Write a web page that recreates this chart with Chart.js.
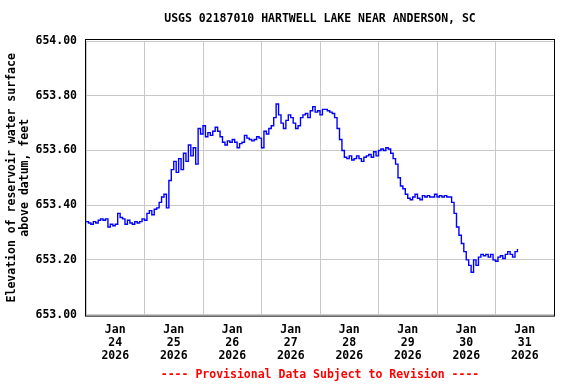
<!DOCTYPE html>
<html>
<head>
<meta charset="utf-8">
<script src="https://cdn.jsdelivr.net/npm/chart.js@4"></script>
<style>
  body { margin: 0; background: #fff; }
  #wrap { width: 576px; height: 384px; }
</style>
</head>
<body>
<div id="wrap"><canvas id="myChart"></canvas></div>
<script>
const titleText = 'USGS 02187010 HARTWELL LAKE NEAR ANDERSON, SC';
const footerText = '---- Provisional Data Subject to Revision ----';
const yTitle = ['Elevation of reservoir water surface', 'above datum, feet'];

// x labels: one per day, placed at noon
const monthLabel = 'Jan';
const dayLabels = ['24', '25', '26', '27', '28', '29', '30', '31'];
const yearLabel = '2026';

// hourly lake level (ft), starting Jan 24 00:00
const levels = [
  // Jan 24
  653.34, 653.335, 653.33, 653.34, 653.335, 653.345, 653.35, 653.345, 653.35, 653.32, 653.33, 653.325,
  653.33, 653.37, 653.355, 653.35, 653.33, 653.345, 653.335, 653.33, 653.34, 653.335, 653.34, 653.35,
  // Jan 25
  653.345, 653.37, 653.38, 653.365, 653.385, 653.39, 653.41, 653.43, 653.44, 653.39, 653.49, 653.53,
  653.56, 653.52, 653.57, 653.53, 653.59, 653.56, 653.62, 653.58, 653.61, 653.55, 653.68, 653.66,
  // Jan 26
  653.69, 653.65, 653.665, 653.655, 653.67, 653.685, 653.67, 653.65, 653.63, 653.62, 653.635, 653.63,
  653.64, 653.63, 653.61, 653.625, 653.63, 653.655, 653.645, 653.64, 653.635, 653.64, 653.65, 653.645,
  // Jan 27
  653.61, 653.67, 653.66, 653.68, 653.69, 653.72, 653.77, 653.73, 653.70, 653.68, 653.71, 653.73,
  653.72, 653.70, 653.68, 653.69, 653.72, 653.73, 653.735, 653.72, 653.745, 653.76, 653.74, 653.745,
  // Jan 28
  653.73, 653.75, 653.75, 653.745, 653.74, 653.735, 653.72, 653.68, 653.64, 653.60, 653.575, 653.57,
  653.58, 653.565, 653.57, 653.58, 653.57, 653.56, 653.575, 653.58, 653.585, 653.575, 653.595, 653.58,
  // Jan 29
  653.60, 653.605, 653.60, 653.61, 653.605, 653.59, 653.57, 653.55, 653.50, 653.47, 653.46, 653.44,
  653.425, 653.42, 653.43, 653.44, 653.425, 653.42, 653.435, 653.43, 653.435, 653.43, 653.43, 653.44,
  // Jan 30
  653.43, 653.435, 653.43, 653.435, 653.43, 653.43, 653.41, 653.37, 653.32, 653.29, 653.26, 653.23,
  653.20, 653.18, 653.155, 653.20, 653.18, 653.21, 653.22, 653.215, 653.22, 653.21, 653.22, 653.20,
  // Jan 31
  653.195, 653.21, 653.215, 653.205, 653.22, 653.23, 653.22, 653.21, 653.23, 653.24
];

const yMin = 653.0;
const yMax = 654.0;

const monoFont = { family: "'DejaVu Sans Mono', monospace", size: 11.5, weight: 'bold', lineHeight: 1.13 };
const gridGray = '#c8c8c8';

const points = levels.map((v, i) => ({ x: i, y: v }));

// black frame around the plot area
const frame = {
  id: 'frame',
  afterDraw(chart) {
    const a = chart.chartArea;
    const c = chart.ctx;
    c.save();
    c.strokeStyle = '#000';
    c.lineWidth = 1;
    c.strokeRect(a.left - 0.5, a.top - 1.5, a.right - a.left + 1, a.bottom - a.top + 3);
    c.restore();
  }
};

const ctx = document.getElementById('myChart').getContext('2d');

const myChart = new Chart(ctx, {
  type: 'line',
  data: {
    datasets: [{
      data: points,
      borderColor: '#0000ff',
      borderWidth: 1.4,
      pointRadius: 0,
      stepped: true,
      fill: false
    }]
  },
  options: {
    responsive: true,
    maintainAspectRatio: false,
    animation: false,
    layout: {
      padding: { left: 0, right: 22, top: 0, bottom: 0 }
    },
    scales: {
      x: {
        type: 'linear',
        min: 0,
        max: 192,
        afterFit: s => { s.height = 54; },
        grid: {
          color: c => (c.tick && c.tick.value % 24 === 0) ? gridGray : 'rgba(0,0,0,0)',
          drawTicks: false
        },
        border: { display: false },
        ticks: {
          stepSize: 12,
          autoSkip: false,
          maxRotation: 0,
          minRotation: 0,
          padding: 9,
          color: '#000',
          font: monoFont,
          callback: v => (v % 24 === 12) ? [monthLabel, dayLabels[(v - 12) / 24], yearLabel] : ''
        }
      },
      y: {
        min: yMin,
        max: yMax,
        afterFit: s => { s.width = 86; },
        grid: {
          color: gridGray,
          drawTicks: false
        },
        border: { display: false },
        ticks: {
          stepSize: 0.2,
          padding: 9,
          color: '#000',
          font: monoFont,
          callback: v => v.toFixed(2)
        },
        title: {
          display: true,
          text: yTitle,
          color: '#000',
          font: monoFont,
          padding: { top: 5.5, bottom: 0 }
        }
      }
    },
    plugins: {
      legend: { display: false },
      tooltip: { enabled: false },
      title: {
        display: true,
        text: titleText,
        color: '#000',
        fullSize: false,
        font: { family: "'DejaVu Sans Mono', monospace", size: 11.5, weight: 'bold', lineHeight: 1.2 },
        padding: { top: 12.6, bottom: 14.6 }
      },
      subtitle: {
        display: true,
        position: 'bottom',
        text: footerText,
        color: '#ff0000',
        fullSize: false,
        font: { family: "'DejaVu Sans Mono', monospace", size: 11.5, weight: 'bold', lineHeight: 1.2 },
        padding: { top: 0, bottom: 1.6 }
      }
    }
  },
  plugins: [frame]
});
</script>
</body>
</html>
